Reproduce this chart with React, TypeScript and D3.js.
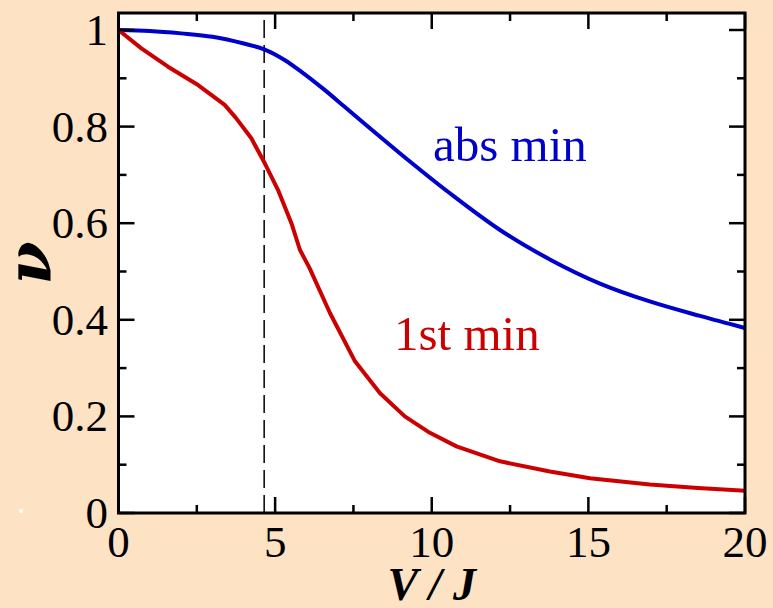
import React from "react";
import * as d3 from "d3";

const absV = [0, 1, 2, 3, 4, 4.65, 5.3, 5.83, 6.58, 7.2, 7.96, 8.98, 10.58, 12.18, 13.77, 15.37, 16.96, 18.56, 20];
const absNu = [1.0, 0.998, 0.993, 0.986, 0.972, 0.960, 0.938, 0.914, 0.876, 0.842, 0.800, 0.745, 0.662, 0.586, 0.525, 0.475, 0.438, 0.408, 0.383];

const firstV = [0, 0.73, 1.58, 2.54, 3.39, 3.76, 4.24, 4.67, 5.09, 5.52, 5.79, 6.10, 6.75, 7.55, 8.35, 9.14, 9.94, 10.79, 12.18, 13.77, 15.05, 16.96, 18.5, 20];
const firstNu = [1.0, 0.962, 0.924, 0.886, 0.845, 0.817, 0.776, 0.724, 0.669, 0.600, 0.545, 0.507, 0.414, 0.314, 0.248, 0.200, 0.166, 0.138, 0.107, 0.086, 0.072, 0.059, 0.052, 0.046];

const xTicks = [0, 5, 10, 15, 20];
const xMinor = [2.5, 7.5, 12.5, 17.5];
const yTicks = [0, 0.2, 0.4, 0.6, 0.8, 1];
const yMinor = [0.1, 0.3, 0.5, 0.7, 0.9];
const yTickLabels = ["0", "0.2", "0.4", "0.6", "0.8", "1"];
const dashedV = 4.65;

const W = 773, H = 608;
const L = 118.5, R = 745, T = 13, B = 513;

export default function App() {
  const x = d3.scaleLinear().domain([0, 20]).range([L, R]);
  const y = d3.scaleLinear().domain([0, 1]).range([B, 30]);
  const absPath = d3.line<number>().curve(d3.curveMonotoneX)(absV.map((v, i) => [x(v), y(absNu[i])] as any));
  const firstPath = d3.line<number>().curve(d3.curveLinear)(firstV.map((v, i) => [x(v), y(firstNu[i])] as any));
  const font = "Liberation Serif, serif";
  const tickW = 2.5;
  return (
    <svg width={W} height={H} style={{ position: "absolute", left: 0, top: 0 }}>
      <rect x={0} y={0} width={W} height={H} fill="#FDE2C4" />
      <circle cx={21} cy={511} r={2} fill="#ffffff" />
      <rect x={L} y={T} width={R - L} height={B - T} fill="#ffffff" />
      <line x1={x(dashedV)} x2={x(dashedV)} y1={20} y2={B} stroke="#000" strokeWidth={1.5} strokeDasharray="18,7" />
      <path d={absPath || ""} fill="none" stroke="#0000CC" strokeWidth={4} strokeLinejoin="round" />
      <path d={firstPath || ""} fill="none" stroke="#CC0000" strokeWidth={4} strokeLinejoin="round" />
      {xTicks.map((t) => (
        <g key={"xt" + t}>
          <line x1={x(t)} x2={x(t)} y1={B} y2={B - 16} stroke="#000" strokeWidth={tickW} />
          <line x1={x(t)} x2={x(t)} y1={T} y2={T + 16} stroke="#000" strokeWidth={tickW} />
          <text x={x(t)} y={557} textAnchor="middle" style={{ fontFamily: font }} fontSize={45} fill="#000">{t}</text>
        </g>
      ))}
      {xMinor.map((t) => (
        <g key={"xm" + t}>
          <line x1={x(t)} x2={x(t)} y1={B} y2={B - 8} stroke="#000" strokeWidth={tickW} />
          <line x1={x(t)} x2={x(t)} y1={T} y2={T + 8} stroke="#000" strokeWidth={tickW} />
        </g>
      ))}
      {yTicks.map((t, i) => (
        <g key={"yt" + t}>
          <line x1={L} x2={L + 16} y1={y(t)} y2={y(t)} stroke="#000" strokeWidth={tickW} />
          <line x1={R} x2={R - 16} y1={y(t)} y2={y(t)} stroke="#000" strokeWidth={tickW} />
          <text x={108} y={y(t) + 15} textAnchor="end" style={{ fontFamily: font }} fontSize={45} fill="#000">{yTickLabels[i]}</text>
        </g>
      ))}
      {yMinor.map((t) => (
        <g key={"ym" + t}>
          <line x1={L} x2={L + 8} y1={y(t)} y2={y(t)} stroke="#000" strokeWidth={tickW} />
          <line x1={R} x2={R - 8} y1={y(t)} y2={y(t)} stroke="#000" strokeWidth={tickW} />
        </g>
      ))}
      <rect x={L} y={T} width={R - L} height={B - T} fill="none" stroke="#000" strokeWidth={3} />
      <text x={433} y={161} style={{ fontFamily: font }} fontSize={49} fill="#0000CC">abs min</text>
      <text x={394} y={350} style={{ fontFamily: font }} fontSize={49} fill="#CC0000">1st min</text>
      <text x={(L + R) / 2} y={600} textAnchor="middle" style={{ fontFamily: font }} fontSize={46} fontWeight="bold" fontStyle="italic" fill="#000">V / J</text>
      <text transform={`translate(50, ${(T + B) / 2}) rotate(-90)`} textAnchor="middle" style={{ fontFamily: "DejaVu Serif, serif" }} fontSize={62} fontWeight="bold" fontStyle="italic" fill="#000">ν</text>
    </svg>
  );
}
